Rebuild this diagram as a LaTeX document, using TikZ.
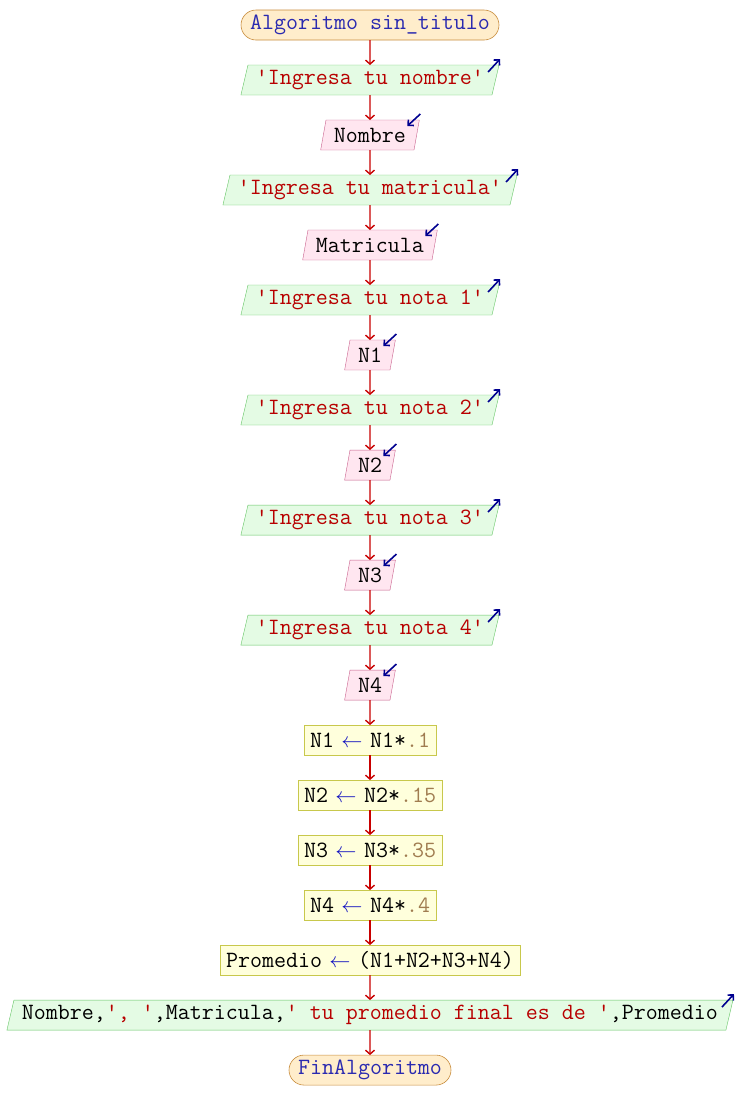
\documentclass[tikz,border=0pt]{standalone}
\usepackage{fontspec}
\usepackage{xcolor}
\usepackage{graphicx}
\usetikzlibrary{arrows.meta,positioning,shapes.geometric,calc}

\definecolor{termfill}{HTML}{FFEDCB}
\definecolor{termline}{HTML}{C88C3C}
\definecolor{outfill}{HTML}{E4FBE4}
\definecolor{outline}{HTML}{64C464}
\definecolor{infill}{HTML}{FFE6F0}
\definecolor{inline}{HTML}{C8608C}
\definecolor{asgfill}{HTML}{FFFFDC}
\definecolor{asgline}{HTML}{C8C84C}
\definecolor{arrowred}{HTML}{C80000}
\definecolor{iconblue}{HTML}{000090}
\definecolor{strred}{HTML}{B80000}
\definecolor{kwblue}{HTML}{2A2AB0}
\definecolor{numbrown}{HTML}{A07C50}
\definecolor{opblue}{HTML}{1010C0}

\newcommand{\Cad}[1]{\textcolor{strred}{#1}}
\newcommand{\Kw}[1]{\textcolor{kwblue}{#1}}
\newcommand{\Num}[1]{\textcolor{numbrown}{#1}}
\newcommand{\Asig}{\textcolor{opblue}{\makebox[12pt]{\scalebox{0.85}{$\leftarrow$}}}}
\newcommand{\Q}{\textquotesingle}

\begin{document}
\begin{tikzpicture}[
    node distance=25pt,
    every node/.style={font=\ttfamily\fontsize{23.3}{26}\selectfont,outer sep=0pt},
    term/.style={draw=termline,fill=termfill,line width=0.6pt,rounded corners=15pt,minimum height=30pt,inner xsep=9pt,inner ysep=1pt},
    iobox/.style={trapezium,trapezium left angle=72,trapezium right angle=108,trapezium stretches=true,
                  minimum height=30pt,inner xsep=8pt,inner ysep=1pt},
    icon/.style={draw=iconblue,fill=none,line width=1.6pt,-{Straight Barb[length=4pt,width=8pt]}},
    salida/.style={iobox,draw=outline,fill=outfill,
        append after command={($(\tikzlastnode.top right corner)+(-11pt,-7pt)$) edge[icon] ($(\tikzlastnode.top right corner)+(1pt,6pt)$)}},
    lectura/.style={iobox,draw=inline,fill=infill,
        append after command={($(\tikzlastnode.top right corner)+(1pt,6pt)$) edge[icon] ($(\tikzlastnode.top right corner)+(-12pt,-6pt)$)}},
    asig/.style={draw=asgline,fill=asgfill,minimum height=30pt,inner xsep=6pt,inner ysep=1pt},
    arrow/.style={draw=arrowred,line width=1.4pt,-{Straight Barb[length=4pt,width=9pt]}}
]
\useasboundingbox (0,0) rectangle (740pt,-1120pt);

\node[term] (inicio) at (370pt,-25pt) {\Kw{Algoritmo sin\_titulo}};
\node[salida,below=of inicio] (msgNombre) {\Cad{\Q Ingresa tu nombre\Q}};
\node[lectura,below=of msgNombre] (leeNombre) {Nombre};
\node[salida,below=of leeNombre] (msgMatricula) {\Cad{\Q Ingresa tu matricula\Q}};
\node[lectura,below=of msgMatricula] (leeMatricula) {Matricula};
\node[salida,below=of leeMatricula] (msgNota1) {\Cad{\Q Ingresa tu nota 1\Q}};
\node[lectura,below=of msgNota1] (leeN1) {N1};
\node[salida,below=of leeN1] (msgNota2) {\Cad{\Q Ingresa tu nota 2\Q}};
\node[lectura,below=of msgNota2] (leeN2) {N2};
\node[salida,below=of leeN2] (msgNota3) {\Cad{\Q Ingresa tu nota 3\Q}};
\node[lectura,below=of msgNota3] (leeN3) {N3};
\node[salida,below=of leeN3] (msgNota4) {\Cad{\Q Ingresa tu nota 4\Q}};
\node[lectura,below=of msgNota4] (leeN4) {N4};
\node[asig,below=of leeN4] (calcN1) {N1 \Asig{} N1*\Num{.1}};
\node[asig,below=of calcN1] (calcN2) {N2 \Asig{} N2*\Num{.15}};
\node[asig,below=of calcN2] (calcN3) {N3 \Asig{} N3*\Num{.35}};
\node[asig,below=of calcN3] (calcN4) {N4 \Asig{} N4*\Num{.4}};
\node[asig,below=of calcN4] (calcProm) {Promedio \Asig{} (N1+N2+N3+N4)};
\node[salida,below=of calcProm] (resultado) {Nombre,\Cad{\Q, \Q},Matricula,\Cad{\Q{} tu promedio final es de \Q},Promedio};
\node[term,below=of resultado] (fin) {\Kw{FinAlgoritmo}};

\draw[arrow] (inicio) -- (msgNombre);
\draw[arrow] (msgNombre) -- (leeNombre);
\draw[arrow] (leeNombre) -- (msgMatricula);
\draw[arrow] (msgMatricula) -- (leeMatricula);
\draw[arrow] (leeMatricula) -- (msgNota1);
\draw[arrow] (msgNota1) -- (leeN1);
\draw[arrow] (leeN1) -- (msgNota2);
\draw[arrow] (msgNota2) -- (leeN2);
\draw[arrow] (leeN2) -- (msgNota3);
\draw[arrow] (msgNota3) -- (leeN3);
\draw[arrow] (leeN3) -- (msgNota4);
\draw[arrow] (msgNota4) -- (leeN4);
\draw[arrow] (leeN4) -- (calcN1);
\draw[arrow] (calcN1) -- (calcN2);
\draw[arrow] (calcN2) -- (calcN3);
\draw[arrow] (calcN3) -- (calcN4);
\draw[arrow] (calcN4) -- (calcProm);
\draw[arrow] (calcProm) -- (resultado);
\draw[arrow] (resultado) -- (fin);
\end{tikzpicture}
\end{document}
